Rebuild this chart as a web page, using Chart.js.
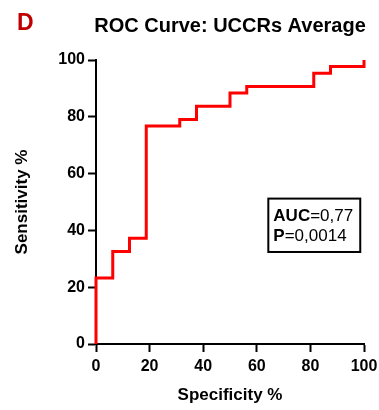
<!DOCTYPE html>
<html>
<head>
<meta charset="utf-8">
<script src="https://cdn.jsdelivr.net/npm/chart.js@4"></script>
<style>
  html, body { margin: 0; padding: 0; background: #fff; }
  #wrap { position: relative; width: 379px; height: 410px; }
</style>
</head>
<body>
<div id="wrap"><canvas id="roc" width="379" height="410"></canvas></div>
<script>
// ROC steps: specificity (x) and sensitivity (y), in %
const specificity = [0, 0, 6.25, 12.5, 18.75, 31.25, 37.5, 50, 56.25, 81.25, 87.5, 100];
const sensitivity = [0, 23.26, 32.56, 37.21, 76.74, 79.07, 83.72, 88.37, 90.70, 95.35, 97.67, 100];
const xTicks = [0, 20, 40, 60, 80, 100];
const yTicks = [0, 20, 40, 60, 80, 100];
const auc = '0,77';
const pValue = '0,0014';

const fam = '"Liberation Sans", Arial, sans-serif';

// panel letter, title over the plot area, stats box
const extras = {
  id: 'extras',
  afterDraw(chart) {
    const c = chart.ctx;
    const xs = chart.scales.x, ys = chart.scales.y;
    const area = chart.chartArea;
    c.save();
    c.textBaseline = 'alphabetic';
    c.fillStyle = '#c00000';
    c.font = 'bold 23px ' + fam;
    c.textAlign = 'left';
    c.fillText('D', 17, 30);

    c.fillStyle = '#000';
    c.font = 'bold 20px ' + fam;
    c.textAlign = 'center';
    c.fillText('ROC Curve: UCCRs Average', (area.left + area.right) / 2, 32);

    const x0 = xs.getPixelForValue(64.3), x1 = xs.getPixelForValue(98.6);
    const y0 = ys.getPixelForValue(51.2), y1 = ys.getPixelForValue(32.4);
    c.strokeStyle = '#000';
    c.lineWidth = 2;
    c.strokeRect(x0, y0, x1 - x0, y1 - y0);

    c.textAlign = 'left';
    const row = (bold, rest, y) => {
      c.font = 'bold 17px ' + fam;
      c.fillText(bold, x0 + 5, y);
      const w = c.measureText(bold).width;
      c.font = '17px ' + fam;
      c.fillText(rest, x0 + 5 + w, y);
    };
    row('AUC', '=' + auc, y0 + 22);
    row('P', '=' + pValue, y0 + 42);
    c.restore();
  }
};

new Chart(document.getElementById('roc'), {
  type: 'line',
  data: {
    datasets: [{
      data: specificity.map((s, i) => ({ x: s, y: sensitivity[i] })),
      borderColor: '#ff0000',
      borderWidth: 3,
      stepped: 'before',
      pointRadius: 0,
      fill: false,
      clip: false
    }]
  },
  options: {
    responsive: false,
    animation: false,
    layout: { padding: { left: 0, right: 15, top: 60, bottom: 0 } },
    plugins: {
      legend: { display: false },
      tooltip: { enabled: false },
      title: { display: false }
    },
    scales: {
      x: {
        type: 'linear',
        min: 0, max: 100,
        afterBuildTicks: s => { s.ticks = xTicks.map(v => ({ value: v })); },
        afterFit: s => { s.height = 66; s.paddingLeft = 0; s.paddingRight = 0; },
        border: { color: '#000', width: 2 },
        grid: { drawOnChartArea: false, tickLength: 8, tickColor: '#000', tickWidth: 2 },
        ticks: { color: '#000', font: { family: fam, size: 16, weight: 'bold' }, padding: 5, maxRotation: 0 },
        title: { display: true, text: 'Specificity %', color: '#000', font: { family: fam, size: 17, weight: 'bold' }, padding: { top: 4 } }
      },
      y: {
        type: 'linear',
        min: 0, max: 100,
        afterBuildTicks: s => { s.ticks = yTicks.map(v => ({ value: v })); },
        afterFit: s => { s.width = 96; s.paddingTop = 0; s.paddingBottom = 0; },
        border: { color: '#000', width: 2 },
        grid: { drawOnChartArea: false, tickLength: 8, tickColor: '#000', tickWidth: 2 },
        ticks: { color: '#000', font: { family: fam, size: 16, weight: 'bold' }, padding: 3 },
        title: { display: true, text: 'Sensitivity %', color: '#000', font: { family: fam, size: 17, weight: 'bold' }, padding: { top: 12, bottom: 4 } }
      }
    }
  },
  plugins: [extras]
});
</script>
</body>
</html>
